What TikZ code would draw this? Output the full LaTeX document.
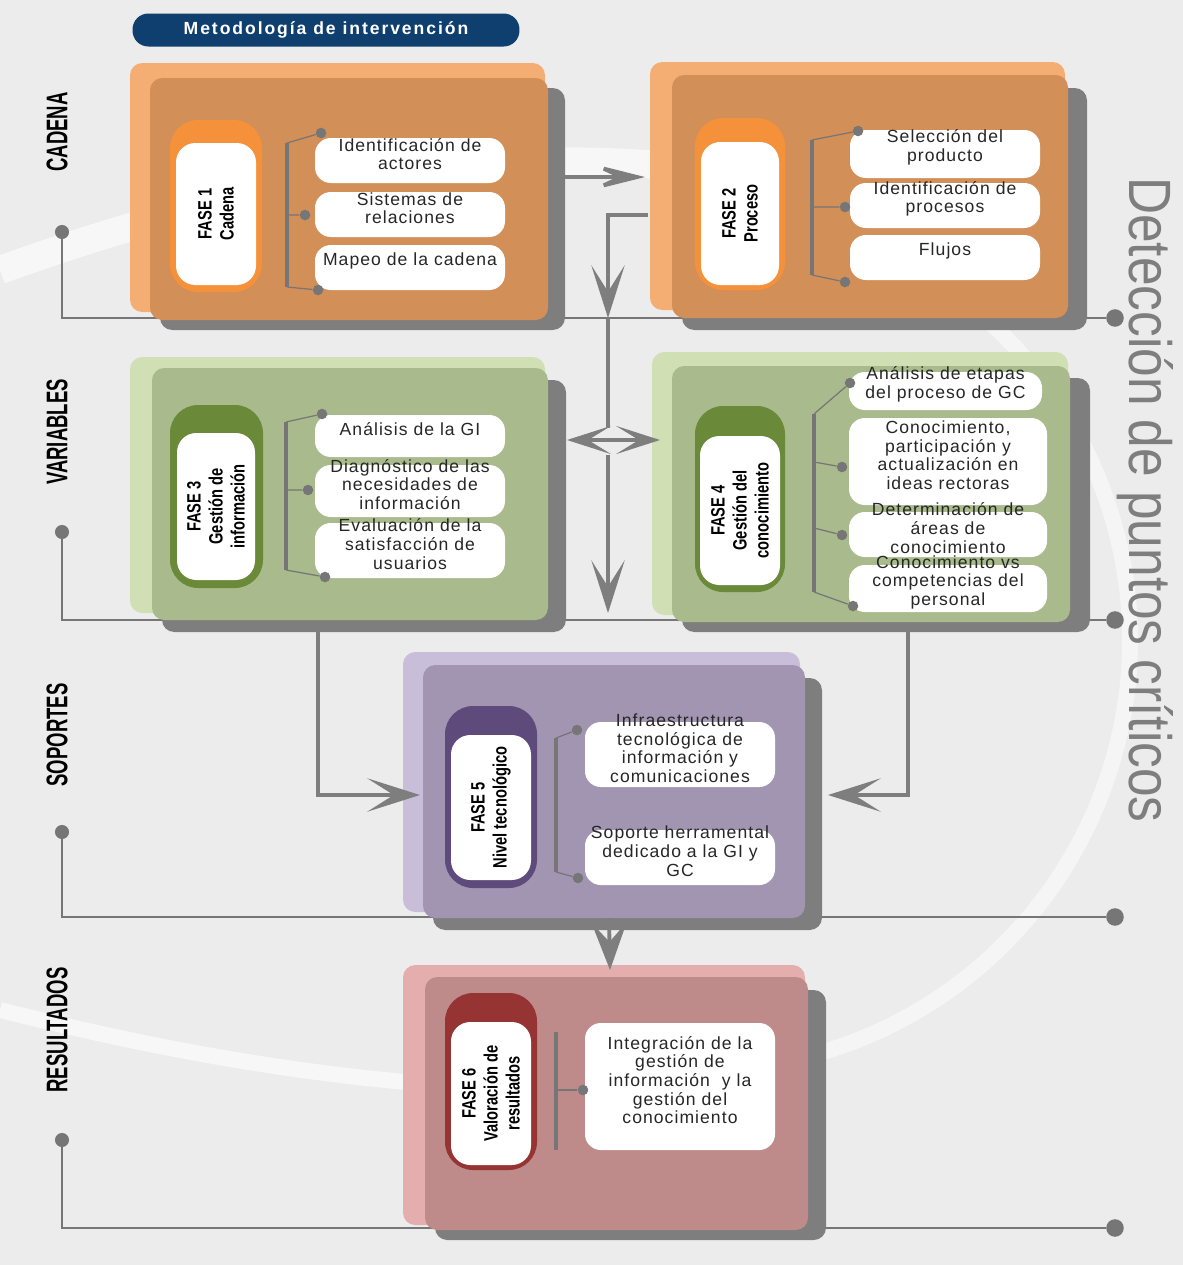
\documentclass[tikz,border=0pt]{standalone}
\usepackage{fontspec}
\setmainfont{Liberation Sans}
\newfontfamily\itemfont[LetterSpace=6]{Liberation Sans}
\newfontfamily\titlefont[LetterSpace=11]{Liberation Sans}
\usetikzlibrary{arrows.meta,fit}

\definecolor{bggray}{HTML}{ECECEC}
\definecolor{shadowgray}{HTML}{7E7E7E}
\definecolor{linegray}{HTML}{767676}
\definecolor{titleblue}{HTML}{0E3F6E}
\definecolor{orlight}{HTML}{F4AD72}
\definecolor{ormain}{HTML}{D38F58}
\definecolor{orpill}{HTML}{F5913B}
\definecolor{grlight}{HTML}{D0DFB4}
\definecolor{grmain}{HTML}{A9BA8C}
\definecolor{grpill}{HTML}{6A8939}
\definecolor{pulight}{HTML}{C8BEDA}
\definecolor{pumain}{HTML}{A195B2}
\definecolor{pupill}{HTML}{5E4A7B}
\definecolor{relight}{HTML}{E5AEAE}
\definecolor{remain}{HTML}{BE8A8A}
\definecolor{repill}{HTML}{963433}

\begin{document}
\begin{tikzpicture}[x=0.02cm, y=-0.02cm,
    >={Stealth[length=30pt,width=19pt,inset=15pt]},
    panel/.style={rounded corners=7pt, inner sep=0pt},
    drop/.style={panel, fill=shadowgray},
    pill/.style={rounded corners=16pt, inner sep=0pt},
    pillin/.style={fill=white, rounded corners=11pt, inner sep=0pt},
    phase/.style={rotate=90, xscale=0.76, align=center, font=\bfseries\fontsize{11}{12.5}\selectfont},
    item/.style={fill=white, rounded corners=9pt, inner sep=0pt, align=center, text=black!85, font=\itemfont\fontsize{10}{10.6}\selectfont},
    bullet/.style={circle, fill=linegray, inner sep=0pt, minimum size=6pt},
    bigbullet/.style={circle, fill=linegray, inner sep=0pt, minimum size=10pt},
    brace/.style={draw=linegray, line width=0.7pt},
    spine/.style={draw=linegray, line width=1.8pt},
    conn/.style={draw=shadowgray, line width=2.2pt},
    guide/.style={draw=linegray, line width=1.1pt},
    rowlabel/.style={rotate=90, xscale=0.62, font=\bfseries\fontsize{17}{17}\selectfont}]

\useasboundingbox (0,0) rectangle (1183,1265);
\fill[bggray] (0,0) rectangle (1183,1265);
\draw[white, line width=16pt, opacity=0.6] (0,270) .. controls (250,180) and (450,150) .. (660,165);
\draw[white, line width=9pt, opacity=0.5] (700,640) ++(-70:430) arc[start angle=-70, end angle=75, radius=430];
\draw[white, line width=9pt, opacity=0.6] (0,1010) .. controls (200,1060) and (420,1100) .. (700,1090);

\node[fill=titleblue, rounded corners=9pt, minimum width=7.74cm, minimum height=0.66cm, text=white, font=\titlefont\bfseries\fontsize{10}{10}\selectfont] (title) at (326,30) {Metodología de intervención};

\node[rowlabel] (l1) at (57,132) {CADENA};
\node[rowlabel] (l2) at (57,432) {VARIABLES};
\node[rowlabel] (l3) at (57,735) {SOPORTES};
\node[rowlabel] (l4) at (57,1030) {RESULTADOS};
\node[bullet, minimum size=8pt] (g1) at (62,232) {};
\node[bullet, minimum size=8pt] (g2) at (62,532) {};
\node[bullet, minimum size=8pt] (g3) at (62,832) {};
\node[bullet, minimum size=8pt] (g4) at (62,1140) {};
\node[bigbullet] (g1r) at (1115,318) {};
\node[bigbullet] (g2r) at (1115,620) {};
\node[bigbullet] (g3r) at (1115,917) {};
\node[bigbullet] (g4r) at (1115,1228) {};
\draw[guide] (g1) |- (g1r);
\draw[guide] (g2) |- (g2r);
\draw[guide] (g3) |- (g3r);
\draw[guide] (g4) |- (g4r);

\node[rotate=-90, xscale=0.86, anchor=base, inner sep=0pt, text=shadowgray, font=\fontsize{34}{34}\selectfont] (detect) at (1129,500) {Detección de puntos críticos};

% FASE 1
\node[drop, fit={(160,88) (565,330)}] (f1sh) {};
\node[panel, fill=orlight, fit={(130,63) (545,312)}] (f1light) {};
\node[panel, fill=ormain, fit={(150,78) (548,320)}] (f1main) {};
\node[pill, fill=orpill, fit={(170,120) (262,292)}] (f1pill) {};
\node[pillin, fit={(176,143) (256,285)}] (f1in) {};
\node[phase] (f1name) at (f1in) {FASE 1\\Cadena};
\node[item, fit={(315,138) (505,183)}] (f1a) {Identificación de\\actores};
\node[item, fit={(315,192) (505,237)}] (f1b) {Sistemas de\\relaciones};
\node[item, fit={(315,245) (505,290)}] (f1c) {Mapeo de la cadena};
\coordinate (f1t) at (287,143);
\coordinate (f1m) at (287,215);
\coordinate (f1e) at (287,287);
\node[bullet] (f1d1) at (321,133) {};
\node[bullet] (f1d2) at (305,215) {};
\node[bullet] (f1d3) at (318,290) {};
\draw[spine] (f1t) -- (f1e);
\draw[brace] (f1t) -- (f1d1) (f1m) -- (f1d2) (f1e) -- (f1d3);

% FASE 2
\node[drop, fit={(682,88) (1087,330)}] (f2sh) {};
\node[panel, fill=orlight, fit={(650,62) (1065,310)}] (f2light) {};
\node[panel, fill=ormain, fit={(672,75) (1068,318)}] (f2main) {};
\node[pill, fill=orpill, fit={(695,118) (785,290)}] (f2pill) {};
\node[pillin, fit={(701,142) (779,285)}] (f2in) {};
\node[phase] (f2name) at (f2in) {FASE 2\\Proceso};
\node[item, fit={(850,130) (1040,178)}] (f2a) {Selección del\\producto};
\node[item, fit={(850,183) (1040,228)}] (f2b) {Identificación de\\procesos};
\node[item, fit={(850,235) (1040,280)}] (f2c) {Flujos};
\coordinate (f2t) at (812,140);
\coordinate (f2m) at (812,207);
\coordinate (f2e) at (812,275);
\node[bullet] (f2d1) at (858,131) {};
\node[bullet] (f2d2) at (845,207) {};
\node[bullet] (f2d3) at (845,282) {};
\draw[spine] (f2t) -- (f2e);
\draw[brace] (f2t) -- (f2d1) (f2m) -- (f2d2) (f2e) -- (f2d3);

% FASE 3
\node[drop, fit={(162,380) (566,632)}] (f3sh) {};
\node[panel, fill=grlight, fit={(130,357) (545,613)}] (f3light) {};
\node[panel, fill=grmain, fit={(152,368) (548,620)}] (f3main) {};
\node[pill, fill=grpill, fit={(170,405) (263,588)}] (f3pill) {};
\node[pillin, fit={(177,433) (255,580)}] (f3in) {};
\node[phase] (f3name) at (f3in) {FASE 3\\Gestión de\\información};
\node[item, fit={(315,415) (505,457)}] (f3a) {Análisis de la GI};
\node[item, fit={(315,465) (505,517)}] (f3b) {Diagnóstico de las\\necesidades de\\información};
\node[item, fit={(315,523) (505,578)}] (f3c) {Evaluación de la\\satisfacción de\\usuarios};
\coordinate (f3t) at (286,422);
\coordinate (f3m) at (286,490);
\coordinate (f3e) at (286,570);
\node[bullet] (f3d1) at (322,414) {};
\node[bullet] (f3d2) at (308,490) {};
\node[bullet] (f3d3) at (325,577) {};
\draw[spine] (f3t) -- (f3e);
\draw[brace] (f3t) -- (f3d1) (f3m) -- (f3d2) (f3e) -- (f3d3);

% FASE 4
\node[drop, fit={(682,378) (1090,632)}] (f4sh) {};
\node[panel, fill=grlight, fit={(652,352) (1068,615)}] (f4light) {};
\node[panel, fill=grmain, fit={(672,366) (1070,622)}] (f4main) {};
\node[pill, fill=grpill, fit={(695,406) (785,592)}] (f4pill) {};
\node[pillin, fit={(700,436) (780,585)}] (f4in) {};
\node[phase] (f4name) at (f4in) {FASE 4\\Gestión del\\conocimiento};
\node[item, fit={(849,372) (1042,410)}] (f4a) {Análisis de etapas\\del proceso de GC};
\node[item, fit={(849,418) (1047,505)}] (f4b) {Conocimiento,\\participación y\\actualización en\\ideas rectoras};
\node[item, fit={(849,512) (1047,557)}] (f4c) {Determinación de\\áreas de\\conocimiento};
\node[item, fit={(849,565) (1047,612)}] (f4d) {Conocimiento vs\\competencias del\\personal};
\coordinate (f4t) at (814,414);
\coordinate (f4m1) at (814,462);
\coordinate (f4m2) at (814,528);
\coordinate (f4e) at (814,592);
\node[bullet] (f4d1) at (850,383) {};
\node[bullet] (f4d2) at (842,467) {};
\node[bullet] (f4d3) at (842,535) {};
\node[bullet] (f4d4) at (853,606) {};
\draw[spine] (f4t) -- (f4e);
\draw[brace] (f4t) -- (f4d1) (f4m1) -- (f4d2) (f4m2) -- (f4d3) (f4e) -- (f4d4);

% FASE 5
\node[drop, fit={(433,678) (822,930)}] (f5sh) {};
\node[panel, fill=pulight, fit={(403,652) (800,912)}] (f5light) {};
\node[panel, fill=pumain, fit={(423,665) (805,918)}] (f5main) {};
\node[pill, fill=pupill, fit={(445,706) (537,888)}] (f5pill) {};
\node[pillin, fit={(451,735) (531,880)}] (f5in) {};
\node[phase] (f5name) at (f5in) {FASE 5\\Nivel tecnológico};
\node[item, fit={(585,722) (775,787)}] (f5a) {Infraestructura\\tecnológica de\\información y\\comunicaciones};
\node[item, fit={(585,830) (775,885)}] (f5b) {Soporte herramental\\dedicado a la GI y\\GC};
\coordinate (f5t) at (556,738);
\coordinate (f5e) at (556,872);
\node[bullet] (f5d1) at (577,730) {};
\node[bullet] (f5d2) at (578,878) {};
\draw[spine] (f5t) -- (f5e);
\draw[brace] (f5t) -- (f5d1) (f5e) -- (f5d2);

% FASE 6
\node[drop, fit={(435,990) (826,1240)}] (f6sh) {};
\node[panel, fill=relight, fit={(403,965) (805,1225)}] (f6light) {};
\node[panel, fill=remain, fit={(425,977) (808,1230)}] (f6main) {};
\node[pill, fill=repill, fit={(445,993) (537,1170)}] (f6pill) {};
\node[pillin, fit={(451,1022) (531,1165)}] (f6in) {};
\node[phase] (f6name) at (f6in) {FASE 6\\Valoración de\\resultados};
\node[item, fit={(585,1023) (775,1150)}] (f6a) {Integración de la\\gestión de\\información \ y la\\gestión del\\conocimiento};
\coordinate (f6t) at (556,1032);
\coordinate (f6m) at (556,1090);
\coordinate (f6e) at (556,1150);
\node[bullet] (f6d1) at (583,1090) {};
\draw[spine] (f6t) -- (f6e);
\draw[brace] (f6m) -- (f6d1);

% flechas
\coordinate (f1out) at (560,177);
\coordinate (f2in) at (645,177);
\draw[conn,->,>={Stealth[length=34pt,width=17pt,inset=18pt]}] (f1out) -- (f2in);
\coordinate (f2out) at (648,215);
\coordinate (v1) at (608,318);
\coordinate (v2) at (608,428);
\draw[conn,->] (f2out) -| (v1);
\draw[conn] (v1) -- (v2);
\coordinate (hl) at (567,440);
\coordinate (hr) at (660,440);
\draw[conn,<->,>={Stealth[length=25pt,width=16pt,inset=13pt]}] (hl) -- (hr);
\coordinate (v3) at (608,455);
\coordinate (v4) at (608,613);
\draw[conn,->] (v3) -- (v4);
\coordinate (f3out) at (318,632);
\coordinate (f5inl) at (420,795);
\draw[conn,->] (f3out) |- (f5inl);
\coordinate (f4out) at (908,632);
\coordinate (f5inr) at (828,795);
\draw[conn,->] (f4out) |- (f5inr);
\coordinate (f5out) at (609,918);
\coordinate (f6in) at (610,970);
\draw[conn,->,>={Stealth[length=27pt,width=20pt,inset=11pt]}] (f5out) -- (f6in);
\end{tikzpicture}
\end{document}
